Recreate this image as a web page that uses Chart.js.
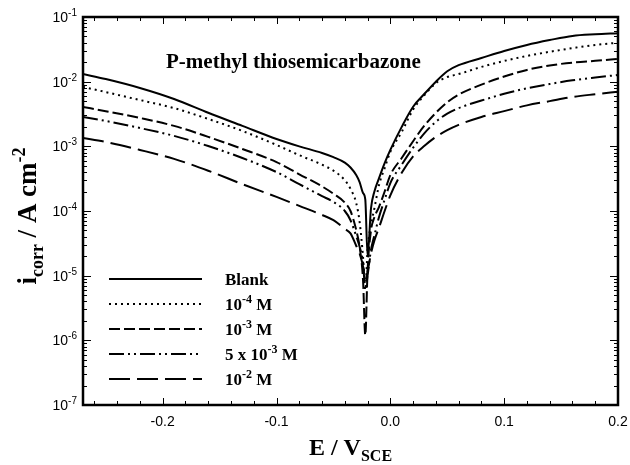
<!DOCTYPE html>
<html>
<head>
<meta charset="utf-8">
<script src="https://cdn.jsdelivr.net/npm/chart.js@4.4.1/dist/chart.umd.min.js"></script>
<style>
  html, body { margin: 0; padding: 0; background: #fff; }
  canvas { display: block; }
</style>
</head>
<body>
<canvas id="tafel" width="630" height="465"></canvas>
<script>
// Potential axis (V vs SCE), shared by all curves
const potential = [-0.27, -0.25, -0.22, -0.19, -0.16, -0.13, -0.10, -0.08, -0.06, -0.05, -0.04, -0.035,
  -0.03, -0.027, -0.024, -0.022, -0.020, -0.017, -0.014, -0.010, -0.005, 0, 0.01, 0.02, 0.03, 0.04,
  0.05, 0.06, 0.08, 0.10, 0.12, 0.14, 0.16, 0.18, 0.20];

// Current density (A cm-2)
const blank = [1.31e-2, 1.10e-2, 8.0e-3, 5.4e-3, 3.3e-3, 2.07e-3, 1.3e-3, 1.0e-3, 7.9e-4, 6.8e-4, 5.6e-4, 4.7e-4,
  3.6e-4, 2.8e-4, 1.9e-4, 1.5e-4, 2.0e-5, 1.1e-4, 2.0e-4, 3.2e-4, 5.5e-4, 8.8e-4, 2.0e-3, 4.1e-3, 6.5e-3, 1.0e-2,
  1.45e-2, 1.8e-2, 2.32e-2, 2.98e-2, 3.7e-2, 4.4e-2, 5.1e-2, 5.4e-2, 5.6e-2];
const conc1e4 = [8.3e-3, 6.9e-3, 5.2e-3, 3.9e-3, 2.65e-3, 1.73e-3, 1.05e-3, 7.3e-4, 5.2e-4, 4.2e-4, 3.0e-4, 2.2e-4,
  1.33e-4, 6.8e-5, 1.95e-5, 6.0e-6, 2.5e-5, 6.1e-5, 1.1e-4, 2.5e-4, 4.6e-4, 8.2e-4, 1.67e-3, 3.7e-3, 6.2e-3, 9.5e-3,
  1.18e-2, 1.31e-2, 1.69e-2, 2.09e-2, 2.5e-2, 2.9e-2, 3.3e-2, 3.7e-2, 4.0e-2];
const conc1e3 = [4.06e-3, 3.5e-3, 2.75e-3, 2.07e-3, 1.40e-3, 9.1e-4, 5.7e-4, 3.7e-4, 2.4e-4, 1.85e-4, 1.35e-4, 1.0e-4,
  5.1e-5, 2.8e-5, 8.6e-6, 1.2e-6, 1.2e-5, 5.0e-5, 8.0e-5, 1.15e-4, 2.0e-4, 3.6e-4, 6.6e-4, 1.2e-3, 2.1e-3, 3.3e-3,
  4.8e-3, 6.3e-3, 9.0e-3, 1.2e-2, 1.52e-2, 1.78e-2, 1.97e-2, 2.1e-2, 2.25e-2];
const conc5e3 = [2.84e-3, 2.47e-3, 1.92e-3, 1.45e-3, 1.01e-3, 6.6e-4, 4.0e-4, 2.6e-4, 1.7e-4, 1.38e-4, 1.0e-4, 7.2e-5,
  4.1e-5, 2.8e-5, 1.6e-5, 6.0e-6, 1.0e-5, 2.5e-5, 4.2e-5, 8.0e-5, 1.5e-4, 2.7e-4, 5.2e-4, 9.5e-4, 1.6e-3, 2.4e-3,
  3.2e-3, 3.9e-3, 5.1e-3, 6.5e-3, 7.9e-3, 9.2e-3, 1.05e-2, 1.16e-2, 1.27e-2];
const conc1e2 = [1.35e-3, 1.17e-3, 8.8e-4, 6.4e-4, 4.2e-4, 2.6e-4, 1.65e-4, 1.2e-4, 8.7e-5, 7.2e-5, 5.3e-5, 4.5e-5,
  2.9e-5, 2.2e-5, 1.4e-5, 8.6e-6, 1.15e-5, 2.2e-5, 3.5e-5, 5.5e-5, 1.0e-4, 1.75e-4, 3.9e-4, 7.0e-4, 1.02e-3, 1.4e-3,
  1.78e-3, 2.15e-3, 2.85e-3, 3.5e-3, 4.3e-3, 5.0e-3, 5.8e-3, 6.4e-3, 7.0e-3];

const seriesLabels = ['Blank', '10^{-4} M', '10^{-3} M', '5 x 10^{-3} M', '10^{-2} M'];
const seriesValues = [blank, conc1e4, conc1e3, conc5e3, conc1e2];
const seriesDash = [[], [2, 4], [11, 4], [15, 4, 2, 4, 2, 4], [21, 7]];

const xTickLabels = ['-0.2', '-0.1', '0.0', '0.1', '0.2'];
const xTickValues = [-0.2, -0.1, 0, 0.1, 0.2];
const yTickLabels = ['10^{-7}', '10^{-6}', '10^{-5}', '10^{-4}', '10^{-3}', '10^{-2}', '10^{-1}'];
const yTickValues = [1e-7, 1e-6, 1e-5, 1e-4, 1e-3, 1e-2, 1e-1];

const SERIF = '"Liberation Serif", "Times New Roman", serif';
const SANS = '"Liberation Sans", Arial, sans-serif';

// split "10^{-4} M" into normal / sup / sub pieces
function parseRich(str) {
  const parts = [];
  const re = /([\^_])\{([^}]*)\}|([^\^_]+)/g;
  let m;
  while ((m = re.exec(str)) !== null) {
    if (m[3] !== undefined) parts.push({ text: m[3], mode: '' });
    else parts.push({ text: m[2], mode: m[1] === '^' ? 'sup' : 'sub' });
  }
  return parts;
}

function drawRich(ctx, str, x, y, size, family, weight, align) {
  const parts = parseRich(str);
  const small = Math.round(size * 0.68);
  let total = 0;
  parts.forEach(p => {
    ctx.font = `${weight} ${p.mode ? small : size}px ${family}`;
    p.w = ctx.measureText(p.text).width;
    total += p.w;
  });
  let cx = x;
  if (align === 'center') cx = x - total / 2;
  if (align === 'right') cx = x - total;
  ctx.textAlign = 'left';
  ctx.textBaseline = 'alphabetic';
  parts.forEach(p => {
    ctx.font = `${weight} ${p.mode ? small : size}px ${family}`;
    let dy = 0;
    if (p.mode === 'sup') dy = -size * 0.42;
    if (p.mode === 'sub') dy = size * 0.25;
    ctx.fillText(p.text, cx, y + dy);
    cx += p.w;
  });
}

const framePlugin = {
  id: 'frame',
  afterDatasetsDraw(chart) {
    const ctx = chart.ctx;
    const area = chart.chartArea;
    const xs = chart.scales.x;
    const ys = chart.scales.y;
    ctx.save();
    ctx.strokeStyle = '#000';
    ctx.fillStyle = '#000';

    // ticks pointing inward
    ctx.lineWidth = 1;
    ctx.beginPath();
    for (let i = -13; i <= 10; i++) {
      const v = i * 0.02;
      const px = Math.round(xs.getPixelForValue(v)) + 0.5;
      const len = (i % 5 === 0) ? 7 : 4;
      ctx.moveTo(px, area.bottom); ctx.lineTo(px, area.bottom - len);
      ctx.moveTo(px, area.top); ctx.lineTo(px, area.top + len);
    }
    for (let d = -7; d <= -1; d++) {
      for (let k = 1; k <= 9; k++) {
        const v = k * Math.pow(10, d);
        if (v > 0.1000001) break;
        const py = Math.round(ys.getPixelForValue(v)) + 0.5;
        const len = k === 1 ? 8 : 4;
        ctx.moveTo(area.left, py); ctx.lineTo(area.left + len, py);
        ctx.moveTo(area.right, py); ctx.lineTo(area.right - len, py);
      }
    }
    ctx.stroke();

    // heavy frame
    ctx.lineWidth = 2.5;
    ctx.strokeRect(area.left, area.top, area.right - area.left, area.bottom - area.top);

    // tick labels
    ctx.font = `14px ${SANS}`;
    ctx.textAlign = 'center';
    ctx.textBaseline = 'middle';
    xTickValues.forEach((v, i) => {
      ctx.fillText(xTickLabels[i], xs.getPixelForValue(v), area.bottom + 17);
    });
    yTickValues.forEach((v, i) => {
      drawRich(ctx, yTickLabels[i], area.left - 6, ys.getPixelForValue(v) + 5, 14, SANS, 'normal', 'right');
    });

    // axis titles
    drawRich(ctx, 'E / V_{SCE}', (area.left + area.right) / 2, 455, 24, SERIF, 'bold', 'center');
    ctx.save();
    ctx.translate(36, 216);
    ctx.rotate(-Math.PI / 2);
    drawRich(ctx, 'i_{corr} / A cm^{-2}', 0, 0, 27, SERIF, 'bold', 'center');
    ctx.restore();

    // title inside the plot
    ctx.font = `bold 21px ${SERIF}`;
    ctx.textAlign = 'left';
    ctx.textBaseline = 'alphabetic';
    ctx.fillText('P-methyl thiosemicarbazone', 166, 68);

    // legend
    seriesLabels.forEach((label, i) => {
      const ly = 279 + i * 25;
      ctx.beginPath();
      ctx.setLineDash(seriesDash[i]);
      ctx.lineWidth = 2;
      ctx.moveTo(109, ly); ctx.lineTo(202, ly);
      ctx.stroke();
      ctx.setLineDash([]);
      drawRich(ctx, label, 225, ly + 6, 17, SERIF, 'bold', 'left');
    });
    ctx.restore();
  }
};

const datasets = seriesValues.map((vals, i) => ({
  label: seriesLabels[i],
  data: potential.map((e, j) => ({ x: e, y: vals[j] })),
  borderColor: '#000',
  borderWidth: 2,
  borderDash: seriesDash[i],
  pointRadius: 0,
  fill: false,
  cubicInterpolationMode: 'monotone'
}));

new Chart(document.getElementById('tafel').getContext('2d'), {
  type: 'line',
  data: { datasets: datasets },
  options: {
    responsive: false,
    animation: false,
    devicePixelRatio: 1,
    layout: { padding: { top: 17, right: 12, left: 0, bottom: 0 } },
    plugins: { legend: { display: false }, tooltip: { enabled: false } },
    scales: {
      x: {
        type: 'linear', min: -0.27, max: 0.2,
        ticks: { display: false }, grid: { display: false }, border: { display: false },
        afterFit: (s) => { s.height = 60; }
      },
      y: {
        type: 'logarithmic', min: 1e-7, max: 1e-1,
        ticks: { display: false }, grid: { display: false }, border: { display: false },
        afterFit: (s) => { s.width = 83; }
      }
    }
  },
  plugins: [framePlugin]
});
</script>
</body>
</html>
